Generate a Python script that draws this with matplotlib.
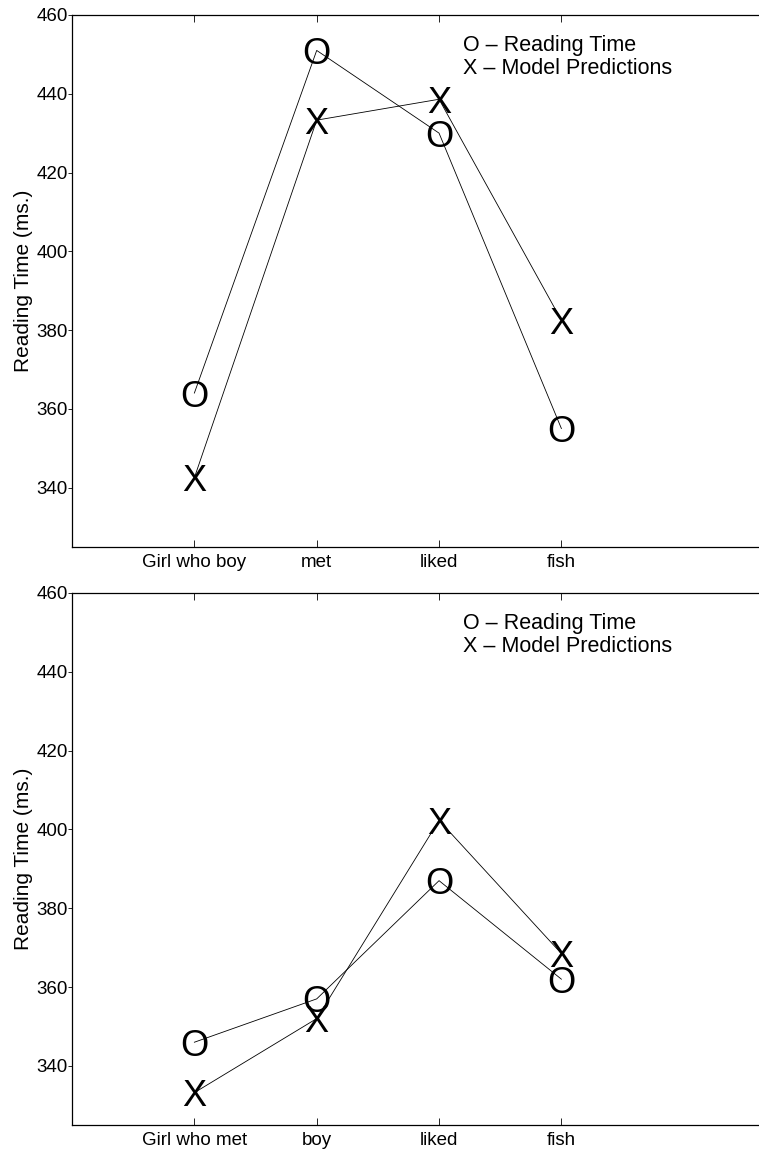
import matplotlib
matplotlib.use('Agg')
import matplotlib.pyplot as plt

plt.rcParams['font.family'] = ['Liberation Sans', 'DejaVu Sans']

positions = [1, 2, 3, 4]

top_labels = ['Girl who boy', 'met', 'liked', 'fish']
top_reading = [364, 451, 430, 355]
top_model = [342.5, 433.3, 438.6, 382.5]

bottom_labels = ['Girl who met', 'boy', 'liked', 'fish']
bottom_reading = [346, 357, 387, 362]
bottom_model = [333.2, 352, 402.3, 368.5]


def draw_panel(ax, labels, reading, model):
    ax.plot(positions, reading, color='black', lw=0.6)
    ax.plot(positions, model, color='black', lw=0.6)
    for x, y in zip(positions, reading):
        ax.text(x, y, 'O', fontsize=26, ha='center', va='center_baseline')
    for x, y in zip(positions, model):
        ax.text(x, y, 'X', fontsize=26, ha='center', va='center_baseline')

    ax.set_xlim(0, 6)
    ax.set_ylim(325, 460)
    ax.set_xticks(positions)
    ax.set_xticklabels(labels)
    ax.set_yticks([340, 360, 380, 400, 420, 440, 460])
    ax.tick_params(axis='x', direction='in', length=4.8, width=0.6,
                   top=True, labelsize=13.5, pad=5)
    ax.tick_params(axis='y', direction='out', length=2.7, width=0.6,
                   labelsize=13.5, pad=0.5)
    ax.spines['right'].set_visible(False)
    for s in ['left', 'bottom', 'top']:
        ax.spines[s].set_linewidth(0.9)
    ax.set_ylabel('Reading Time (ms.)', fontsize=15, labelpad=2)

    ax.text(0.533, 0.947, 'O \u2013 Reading Time', transform=ax.transAxes,
            fontsize=15.5, ha='left', va='center_baseline')
    ax.text(0.533, 0.904, 'X \u2013 Model Predictions', transform=ax.transAxes,
            fontsize=15.5, ha='left', va='center_baseline')


fig = plt.figure(figsize=(7.59, 11.53), dpi=100)
ax1 = fig.add_axes([0.0949, 0.5259, 0.9671, 0.4611])
ax2 = fig.add_axes([0.0949, 0.0243, 0.9671, 0.4614])

draw_panel(ax1, top_labels, top_reading, top_model)
draw_panel(ax2, bottom_labels, bottom_reading, bottom_model)

fig.savefig('out.png', dpi=100)
